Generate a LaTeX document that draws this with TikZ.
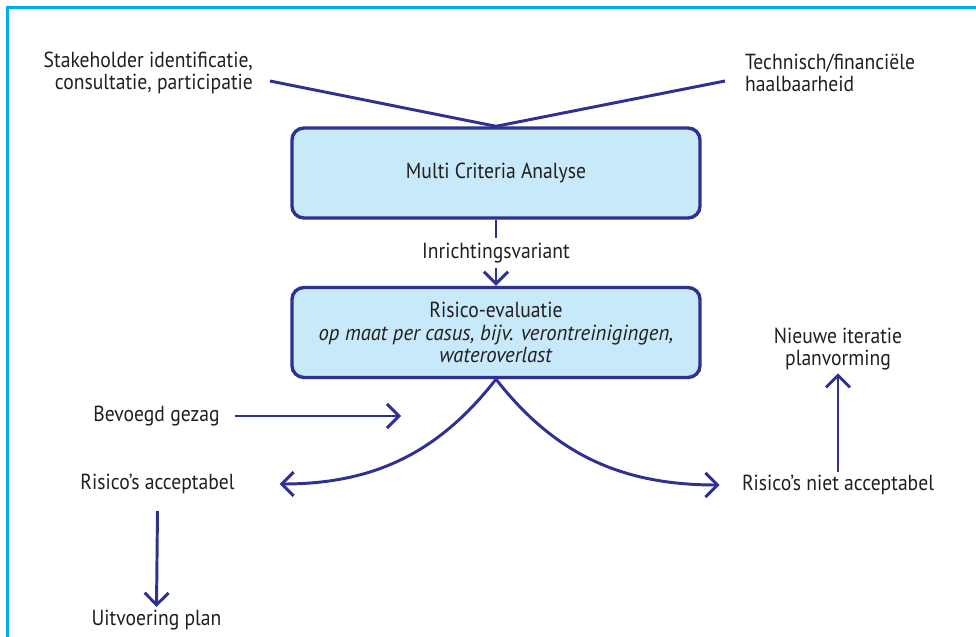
\documentclass[tikz,border=0pt]{standalone}
\usepackage{fontspec}
\setmainfont{PT Sans}[UprightFeatures={FakeStretch=0.9},ItalicFeatures={FakeStretch=0.95}]
\usetikzlibrary{arrows.meta,calc}
\definecolor{lineblue}{RGB}{46,49,146}
\definecolor{boxfill}{RGB}{199,233,249}
\definecolor{framecyan}{RGB}{0,174,239}
\definecolor{txt}{RGB}{35,31,32}
\begin{document}
\begin{tikzpicture}[x=0.025cm,y=-0.025cm,
  lbl/.style={font=\fontsize{15.5}{15.3}\selectfont, text=txt, inner sep=2pt},
  box/.style={draw=lineblue, line width=2.4pt, fill=boxfill, rounded corners=0.3cm,
              minimum width=10.2cm, minimum height=2.25cm, align=center, text=txt,
              font=\fontsize{15.5}{16}\selectfont},
  conn/.style={draw=lineblue, line width=2.1pt},
  arr/.style={conn, -{Straight Barb[length=3mm,width=6mm]}}
]
% page area
\useasboundingbox (0,0) rectangle (976,637);
% frame
\draw[framecyan, line width=2.2pt] (976,7.5) -- (7.5,7.5) -- (7.5,640);

% inputs
\node[lbl, anchor=east, align=right] (stake) at (256,73)
  {Stakeholder identificatie,\\consultatie, participatie};
\node[lbl, anchor=west, align=left] (tech) at (742,73)
  {Technisch/financiële\\haalbaarheid};
\coordinate (stakeout) at (270,81);
\coordinate (techout) at (725,81);

% boxes
\node[box] (mca) at (496,173) {Multi Criteria Analyse};
\node[box] (risk) at (496,332.5)
  {Risico-evaluatie\\\textit{op maat per casus, bijv. verontreinigingen,}\\\textit{wateroverlast}};

\node[lbl, inner ysep=3pt] (inr) at (496,253) {Inrichtingsvariant};

% outcomes
\node[lbl] (bev) at (156.5,416) {Bevoegd gezag};
\coordinate (bevin) at (401,416);
\node[lbl, outer xsep=30] (acc) at (157.5,484) {Risico’s acceptabel};
\node[lbl] (uitv) at (156.5,620) {Uitvoering plan};
\node[lbl, outer xsep=14] (niet) at (838,485) {Risico’s niet acceptabel};
\node[lbl, align=center, font=\fontsize{15.5}{15.8}\selectfont] (nieuw) at (838,349)
  {Nieuwe iteratie\\planvorming};

% connectors
\draw[conn] (stakeout) -- (mca.north);
\draw[conn] (techout) -- (mca.north);
\draw[conn] (mca.south) -- (inr.north);
\draw[arr] (inr.south) -- (risk.north);
\draw[arr] (bev.east) ++(12,0) -- (bevin);
\draw[arr] (risk.south) to[out=-128, in=0] (acc.east);
\draw[arr] (risk.south) to[out=-52, in=180] (niet.west);
\draw[arr] ($(acc.south)+(0,14)$) -- (uitv.north);
\draw[arr] (niet.north) -- (nieuw.south);
\end{tikzpicture}
\end{document}
